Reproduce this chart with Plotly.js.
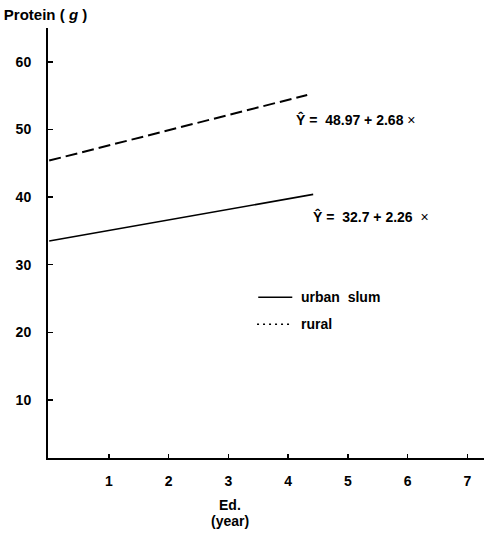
<!DOCTYPE html>
<html>
<head>
<meta charset="utf-8">
<script src="https://cdn.plot.ly/plotly-3.0.1.min.js"></script>
<style>html,body{margin:0;padding:0;background:#fff;}#chart{width:484px;height:533px;}</style>
</head>
<body>
<div id="chart"></div>
<script>
// Data
var eduYears = [0, 4.42];          // urban slum line end points (x)
var urbanProtein = [33.5, 40.4];   // urban slum (y)
var eduYearsRural = [0, 4.32];     // rural line end points (x)
var ruralProtein = [45.4, 55.1];   // rural (y)
var xTicks = [1, 2, 3, 4, 5, 6, 7];
var yTicks = [10, 20, 30, 40, 50, 60];
var seriesNames = ['urban&nbsp; slum', 'rural'];
var eqRural = 'Ŷ =&nbsp; 48.97 + 2.68 <span style="font-weight:normal">×</span>';
var eqUrban = 'Ŷ =&nbsp; 32.7 + 2.26&nbsp; <span style="font-weight:normal">×</span>';

var F = 'Liberation Sans, Arial, Helvetica, sans-serif';
function bf(s) { return {family: F, size: s, weight: 'bold', color: '#000'}; }

var traces = [
  {x: eduYears, y: urbanProtein, mode: 'lines', name: 'urban slum',
   line: {color: '#000', width: 1.6, dash: 'solid'}, showlegend: false, hoverinfo: 'skip'},
  {x: eduYearsRural, y: ruralProtein, mode: 'lines', name: 'rural',
   line: {color: '#000', width: 2, dash: '12px,5px'}, showlegend: false, hoverinfo: 'skip'}
];

var layout = {
  width: 484, height: 533,
  margin: {l: 48, r: 0, t: 28, b: 75},
  paper_bgcolor: '#fff', plot_bgcolor: '#fff',
  showlegend: false,
  font: {family: F, color: '#000', size: 14},
  title: {text: 'Protein ( <i>g</i> )', x: 0.008, xanchor: 'left', xref: 'container',
          y: 0.972, yanchor: 'middle', yref: 'container', font: bf(15)},
  xaxis: {range: [-0.02, 7.28], tickvals: xTicks, ticktext: xTicks.map(String),
          ticks: 'inside', ticklen: 4, tickwidth: 1.5, tickcolor: '#000',
          showline: true, linecolor: '#000', linewidth: 2, showgrid: false, zeroline: false,
          tickfont: bf(14), ticklabelstandoff: 9},
  yaxis: {range: [1.42, 65], tickvals: yTicks, ticktext: yTicks.map(String),
          ticks: 'inside', ticklen: 5, tickwidth: 1.5, tickcolor: '#000',
          showline: true, linecolor: '#000', linewidth: 2, showgrid: false, zeroline: false,
          tickfont: bf(14), ticklabelstandoff: 12},
  shapes: [
    {type: 'line', xref: 'x', yref: 'y', x0: 3.5, x1: 4.07, y0: 25.2, y1: 25.2,
     line: {color: '#000', width: 1.5}},
    {type: 'line', xref: 'x', yref: 'y', x0: 3.48, x1: 4.05, y0: 21.2, y1: 21.2,
     line: {color: '#000', width: 1.5, dash: '2px,4px'}}
  ],
  annotations: [
    {text: eqRural, x: 4.10, y: 51.4, xref: 'x', yref: 'y', xanchor: 'left', yanchor: 'middle',
     showarrow: false, font: bf(14)},
    {text: eqUrban, x: 4.39, y: 37.1, xref: 'x', yref: 'y', xanchor: 'left', yanchor: 'middle',
     showarrow: false, font: bf(14)},
    {text: seriesNames[0], x: 4.18, y: 25.2, xref: 'x', yref: 'y', xanchor: 'left', yanchor: 'middle',
     showarrow: false, font: bf(14)},
    {text: seriesNames[1], x: 4.18, y: 21.2, xref: 'x', yref: 'y', xanchor: 'left', yanchor: 'middle',
     showarrow: false, font: bf(14)},
    {text: 'Ed.', x: 3.03, y: -0.11, xref: 'x', yref: 'paper', xanchor: 'center', yanchor: 'middle',
     showarrow: false, font: bf(14)},
    {text: '(year)', x: 3.03, y: -0.146, xref: 'x', yref: 'paper', xanchor: 'center', yanchor: 'middle',
     showarrow: false, font: bf(14)}
  ]
};

Plotly.newPlot('chart', traces, layout, {displayModeBar: false, staticPlot: true});
</script>
</body>
</html>
